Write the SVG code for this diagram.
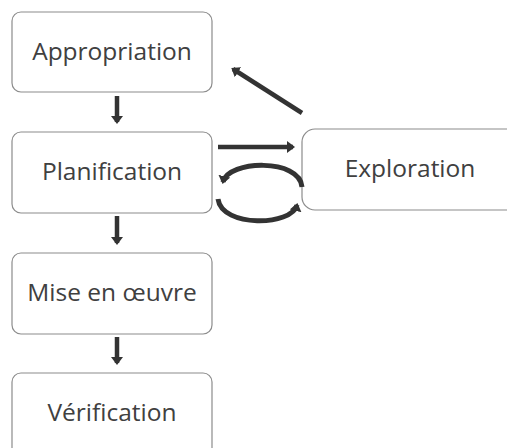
<svg xmlns="http://www.w3.org/2000/svg" width="507" height="448" viewBox="0 0 507 448">
<style>
.box{fill:#fff;stroke:#8c8c8c;stroke-width:1.2}
.lbl{font-family:"Open Sans","Liberation Sans",sans-serif;font-size:24.5px;fill:#404040;text-anchor:middle}
.sh{stroke:#333;stroke-width:4.5;fill:none}
.arc{stroke:#333;stroke-width:5;fill:none}
</style>
<defs>
<marker id="ah" markerWidth="10" markerHeight="12" refX="6" refY="6" orient="auto" markerUnits="userSpaceOnUse">
<path d="M0,0 L8,6 L0,12 Z" fill="#333"/>
</marker>
</defs>
<rect width="507" height="448" fill="#fff"/>
<g id="n-appropriation"><rect class="box" x="12" y="12" width="200" height="80" rx="9"/><text class="lbl" x="112" y="60">Appropriation</text></g>
<g id="n-planification"><rect class="box" x="12" y="132" width="200" height="81" rx="9"/><text class="lbl" x="112" y="180">Planification</text></g>
<g id="n-mise"><rect class="box" x="12" y="253" width="200" height="81" rx="9"/><text class="lbl" x="112" y="301">Mise en œuvre</text></g>
<g id="n-verification"><rect class="box" x="12" y="373" width="200" height="90" rx="9"/><text class="lbl" x="112" y="421">Vérification</text></g>
<g id="n-exploration"><rect class="box" x="302" y="129" width="220" height="81" rx="13"/><text class="lbl" x="410" y="177">Exploration</text></g>
<g id="connectors">
<line class="sh" x1="117" y1="96" x2="117" y2="122" marker-end="url(#ah)"/>
<line class="sh" x1="117" y1="216" x2="117" y2="243" marker-end="url(#ah)"/>
<line class="sh" x1="117" y1="337" x2="117" y2="363" marker-end="url(#ah)"/>
<line class="sh" x1="302" y1="113" x2="233" y2="69" marker-end="url(#ah)"/>
<line class="sh" x1="218" y1="147" x2="293" y2="147" marker-end="url(#ah)"/>
<path class="arc" d="M302,187 C300,158 228,160 223,182" marker-end="url(#ah)"/>
<path class="arc" d="M218,199 C222,228 292,226 297,205" marker-end="url(#ah)"/>
</g>
</svg>
